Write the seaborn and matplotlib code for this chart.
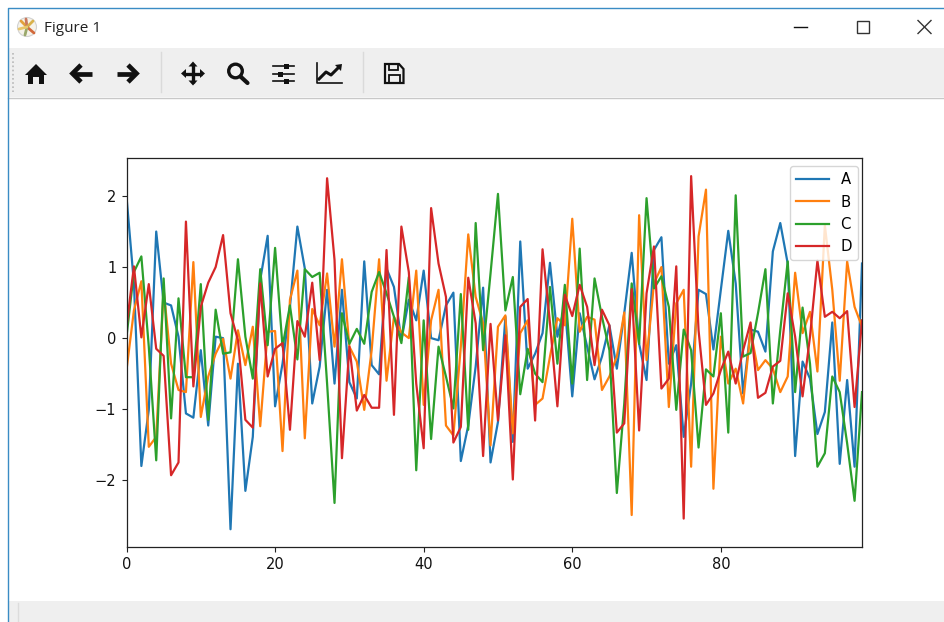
import matplotlib
matplotlib.use("Agg")
import matplotlib.pyplot as plt
from matplotlib.patches import Rectangle, Polygon, Circle
import numpy as np
import pandas as pd
import seaborn as sns

A = [1.99,0.77,-1.80,-1.01,1.50,0.50,0.46,0.02,-1.06,-1.12,-0.17,-1.23,0.02,0.00,-2.69,-0.36,-2.15,-1.39,0.82,1.44,
     -0.96,-0.36,0.44,1.57,0.98,-0.92,-0.40,0.68,-0.64,0.68,-0.62,-0.85,1.08,-0.38,-0.51,0.98,0.72,-0.03,0.54,0.25,
     0.95,0.00,-0.03,0.46,0.64,-1.73,-1.23,-0.40,0.71,-1.75,-1.18,0.30,-1.46,1.36,-0.43,-0.22,0.07,1.06,0.02,0.46,
     -0.82,0.35,-0.12,-0.58,-0.26,0.18,-0.43,0.35,1.20,-0.08,-0.59,1.24,1.42,-0.36,-0.10,-1.39,-0.64,0.68,0.62,-0.16,
     0.68,1.51,0.77,-0.78,0.12,0.09,-0.19,1.22,1.62,1.05,-1.66,-0.33,-0.57,-1.35,-1.04,0.22,-1.77,-0.59,-1.81,1.05]
B = [-0.45,0.39,0.80,-1.53,-1.39,0.68,-0.36,-0.73,-0.76,1.07,-1.11,-0.54,-0.22,-0.01,-0.57,0.11,-0.38,0.16,-1.24,0.09,
     0.10,-1.59,0.54,0.95,-1.41,0.41,0.18,0.91,-0.12,1.11,-0.12,-0.33,-1.01,-0.17,1.11,-0.60,0.30,0.08,0.00,0.95,
     -0.94,0.25,0.68,-1.23,-1.37,-0.12,1.46,0.58,0.21,-1.51,0.16,0.32,-1.34,0.07,0.25,-0.94,-0.85,-0.26,0.28,0.18,
     1.68,0.09,0.30,0.26,-0.73,-0.54,-0.26,0.36,-2.49,1.73,-0.31,0.77,1.00,-0.97,0.49,0.68,-1.81,1.43,2.09,-2.12,
     0.02,-0.64,-0.43,-0.92,0.11,-0.45,-0.31,-0.43,-0.76,-0.54,0.92,0.07,0.37,-0.47,1.59,0.68,-0.60,1.08,0.44,0.16]
C = [0.02,0.93,1.15,-0.12,-1.72,0.84,-1.13,0.56,-0.55,-0.55,0.76,-1.15,0.40,-0.22,-0.20,1.11,0.02,-0.57,0.97,-0.10,
     1.27,-0.12,0.46,-0.30,0.97,0.86,0.92,-0.64,-2.32,0.35,-0.08,0.13,-0.08,0.65,0.93,0.63,0.30,-0.07,0.86,-1.86,
     0.25,-1.42,-0.12,-0.54,-0.99,0.62,-1.29,1.62,-0.17,0.91,2.03,0.39,0.86,-0.79,-0.15,-0.50,-0.62,0.72,-0.36,0.75,
     -0.64,1.26,-0.59,0.84,0.30,-0.17,-2.18,-0.92,0.77,-0.08,1.97,0.70,0.87,0.44,-1.01,0.12,-0.17,-1.54,-0.44,-0.54,
     0.35,-1.33,2.01,-0.26,-0.21,0.35,0.97,-0.92,0.11,1.08,-0.76,0.43,-0.36,-1.81,-1.62,-0.54,-0.76,-1.48,-2.29,-0.76]
D = [0.16,1.01,0.01,0.76,-0.15,-0.25,-1.93,-1.75,1.64,-0.68,0.44,0.78,1.00,1.45,0.35,-0.03,-1.15,-1.26,0.77,-0.54,
     -0.15,-0.07,-1.29,0.24,0.02,0.78,-0.31,2.25,1.10,-1.69,-0.12,-1.02,-0.80,-0.98,-0.98,1.24,-1.08,1.57,0.93,-0.64,
     -1.55,1.83,1.05,0.58,-1.47,-1.25,0.85,0.21,-1.66,0.20,-1.16,0.04,-1.99,0.44,0.55,-1.16,1.25,0.21,-0.96,0.61,
     0.31,0.75,0.44,-0.38,0.40,0.18,-1.33,-1.20,0.69,-1.30,0.63,1.29,-0.71,-0.57,1.01,-2.54,2.28,0.11,-0.94,-0.78,
     -0.45,-0.19,-0.64,-0.17,0.22,-0.84,-0.77,-0.40,-0.32,0.63,0.02,-0.82,0.02,1.09,0.30,0.37,0.28,0.38,-0.97,0.25]
TITLE = "Figure 1"

df = pd.DataFrame({"A": A, "B": B, "C": C, "D": D})

W, H = 944, 622
fig = plt.figure(figsize=(W / 100, H / 100), dpi=100, facecolor="white")

# window chrome, laid out in screen pixels
ui = fig.add_axes([0, 0, 1, 1], zorder=0)
ui.set_xlim(0, W)
ui.set_ylim(H, 0)
ui.axis("off")
BAR = "#efefef"
INK = "#111111"
ui.add_patch(Rectangle((8, 48), W - 8, 49, fc=BAR, ec="none"))
ui.plot([8, W], [97.5, 97.5], color="#c8c8c8", lw=1)
ui.add_patch(Rectangle((8, 601), W - 8, 21, fc=BAR, ec="none"))
ui.plot([18, 18], [603, 622], color="#dcdcdc", lw=1)
ui.plot([7.5, 7.5, W], [H, 8, 8], color="#3a8cc4", lw=1)
for x in (160.5, 362.5):
    ui.plot([x, x], [52, 92], color="#dadada", lw=1)
ui.plot([13, 13], [53, 92], color="#b8b8b8", lw=1.2, ls=(0, (1, 1.5)))
ui.text(44, 28, TITLE, fontsize=11, family="Open Sans", va="center", ha="left", color="#222222")

# app logo
ui.add_patch(Circle((27, 27), 9.5, fc="#f6f3ea", ec="#d2d2d2", lw=0.8))
for dx, dy, c in [(-6, -6, "#e2a13c"), (-1, -8, "#c9785c"), (6, -6, "#d9b24c"),
                  (7, 6, "#d2693c"), (-2, 8, "#9aa86b"), (-8, 2, "#e8c66a")]:
    ui.plot([27, 27 + dx], [27, 27 + dy], color=c, lw=2, solid_capstyle="round")

# window buttons
ui.plot([794, 807], [26.5, 26.5], color=INK, lw=1)
ui.add_patch(Rectangle((856.5, 21), 12, 12, fc="none", ec="#333333", lw=1))
ui.plot([918, 931], [20.5, 33.5], color="#333333", lw=1)
ui.plot([918, 931], [33.5, 20.5], color="#333333", lw=1)

# toolbar: home
ui.add_patch(Polygon([(36, 64), (47, 75), (44, 75), (44, 84), (39, 84), (39, 77), (33, 77), (33, 84),
                      (28, 84), (28, 75), (25, 75)], fc=INK, ec="none"))
# back / forward
for cx, s in ((82, -1), (127, 1)):
    ui.plot([cx - 10 * s, cx + 8 * s], [73.5, 73.5], color=INK, lw=3.4, solid_capstyle="butt")
    ui.plot([cx + 1 * s, cx + 9.5 * s, cx + 1 * s], [65, 73.5, 82], color=INK, lw=3.4,
            solid_joinstyle="miter", solid_capstyle="butt")
# move
cx, cy = 193, 73.5
ui.plot([cx - 9, cx + 9], [cy, cy], color=INK, lw=2.4, solid_capstyle="butt")
ui.plot([cx, cx], [cy - 9, cy + 9], color=INK, lw=2.4, solid_capstyle="butt")
for pts in ([(cx - 12, cy), (cx - 7, cy - 4.5), (cx - 7, cy + 4.5)],
            [(cx + 12, cy), (cx + 7, cy - 4.5), (cx + 7, cy + 4.5)],
            [(cx, cy - 12), (cx - 4.5, cy - 7), (cx + 4.5, cy - 7)],
            [(cx, cy + 12), (cx - 4.5, cy + 7), (cx + 4.5, cy + 7)]):
    ui.add_patch(Polygon(pts, fc=INK, ec="none"))
# zoom
ui.add_patch(Circle((235.5, 71), 6.8, fc="none", ec=INK, lw=2.4))
ui.plot([240.5, 247.5], [76.5, 83], color=INK, lw=3, solid_capstyle="round")
# sliders
for y, k in ((66, 286), (74, 280), (81, 286)):
    ui.plot([273, 294], [y, y], color=INK, lw=1.2)
    ui.add_patch(Rectangle((k - 2.5, y - 2.5), 5, 5, fc=INK, ec="none"))
# chart icon
ui.plot([317, 317, 342], [63, 83, 83], color=INK, lw=1.2)
ui.plot([319, 326, 331, 339], [79, 72, 75, 67], color=INK, lw=2.2)
ui.add_patch(Polygon([(342, 64), (335, 65), (341, 71)], fc=INK, ec="none"))
# save
ui.add_patch(Polygon([(385, 64), (399, 64), (403.5, 69), (403.5, 83), (385, 83)], fc="none", ec=INK, lw=1.6))
ui.add_patch(Rectangle((389, 64), 9, 6, fc="none", ec=INK, lw=1.3))
ui.add_patch(Rectangle((389, 75), 11, 8, fc="none", ec=INK, lw=1.3))

# the chart
ax = fig.add_axes([126.5 / W, (H - 547) / H, 735.5 / W, 389 / H], zorder=1)
sns.lineplot(data=df, dashes=False, palette=["#1f77b4", "#ff7f0e", "#2ca02c", "#d62728"],
             linewidth=1.6, ax=ax)
ax.set_xlim(0, 99)
ax.set_ylim(-2.94, 2.535)
ax.set_xticks([0, 20, 40, 60, 80])
ax.set_yticks([-2, -1, 0, 1, 2])
ax.tick_params(labelsize=10.5, length=3.8, color="#222222", labelcolor="#111111")
for sp in ax.spines.values():
    sp.set_color("#222222")
    sp.set_linewidth(0.9)
ax.legend(loc="upper right", fontsize=10.7, borderaxespad=0, handlelength=2.2,
          bbox_to_anchor=(0.9946, 0.979))

fig.savefig("out.png", dpi=100)
